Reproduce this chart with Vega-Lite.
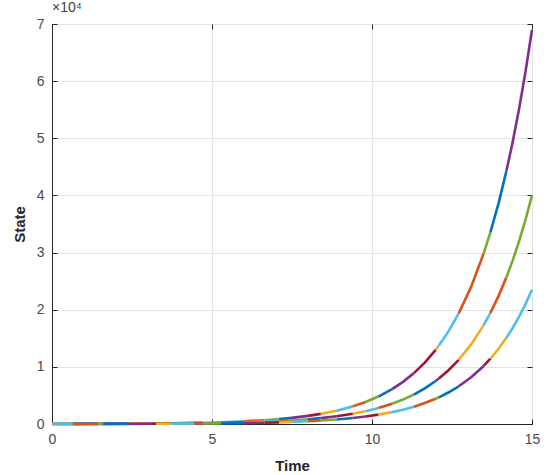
{
  "$schema": "https://vega.github.io/schema/vega-lite/v6.json",
  "width": 480,
  "height": 400,
  "autosize": {"type": "none"},
  "padding": {"left": 52, "top": 24, "right": 14, "bottom": 51},
  "background": "white",
  "title": {"text": "×10⁴", "anchor": "start", "frame": "group", "fontSize": 14, "fontWeight": "normal", "color": "#404040", "font": "Liberation Sans", "offset": 2},
  "data": {"values": [
    {"seg":0,"t":0,"x1":16.7,"x2":9.7,"x3":5.7},{"seg":0,"t":0.05,"x1":17.2,"x2":10,"x3":5.9},
    {"seg":1,"t":0.05,"x1":17.2,"x2":10,"x3":5.9},{"seg":1,"t":0.65,"x1":24,"x2":13.9,"x3":8.2},
    {"seg":2,"t":0.65,"x1":24,"x2":13.9,"x3":8.2},{"seg":2,"t":1.43,"x1":37,"x2":21.4,"x3":12.6},
    {"seg":3,"t":1.43,"x1":37,"x2":21.4,"x3":12.6},{"seg":3,"t":1.6,"x1":40.6,"x2":23.6,"x3":13.8},
    {"seg":4,"t":1.6,"x1":40.6,"x2":23.6,"x3":13.8},{"seg":4,"t":2.4,"x1":63.4,"x2":36.7,"x3":21.6},
    {"seg":5,"t":2.4,"x1":63.4,"x2":36.7,"x3":21.6},{"seg":5,"t":3.1,"x1":93.4,"x2":54.2,"x3":31.8},
    {"seg":6,"t":3.1,"x1":93.4,"x2":54.2,"x3":31.8},{"seg":6,"t":3.25,"x1":101.6,"x2":58.9,"x3":34.6},
    {"seg":7,"t":3.25,"x1":101.6,"x2":58.9,"x3":34.6},{"seg":7,"t":3.72,"x1":131.8,"x2":76.4,"x3":44.9},
    {"seg":8,"t":3.72,"x1":131.8,"x2":76.4,"x3":44.9},{"seg":8,"t":4.45,"x1":197.7,"x2":114.6,"x3":67.3},
    {"seg":9,"t":4.45,"x1":197.7,"x2":114.6,"x3":67.3},{"seg":9,"t":4.72,"x1":229.6,"x2":133.1,"x3":78.2},
    {"seg":10,"t":4.72,"x1":229.6,"x2":133.1,"x3":78.2},{"seg":10,"t":5.28,"x1":313.3,"x2":181.6,"x3":106.7},
    {"seg":11,"t":5.28,"x1":313.3,"x2":181.6,"x3":106.7},{"seg":11,"t":6.0,"x1":467.3,"x2":270.9,"x3":159.1},
    {"seg":12,"t":6.0,"x1":467.3,"x2":270.9,"x3":159.1},{"seg":12,"t":6.64,"x1":666.5,"x2":386.4,"x3":227},
    {"seg":13,"t":6.64,"x1":666.5,"x2":386.4,"x3":227},{"seg":13,"t":7.1,"x1":860.4,"x2":498.8,"x3":293},
    {"seg":14,"t":7.1,"x1":860.4,"x2":498.8,"x3":293},{"seg":14,"t":7.5,"x1":1074.3,"x2":622.8,"x3":365.9},
    {"seg":15,"t":7.5,"x1":1074.3,"x2":622.8,"x3":365.9},{"seg":15,"t":8.0,"x1":1417.8,"x2":821.9,"x3":482.9},
    {"seg":16,"t":8.0,"x1":1417.8,"x2":821.9,"x3":482.9},{"seg":16,"t":8.4,"x1":1770.2,"x2":1026.2,"x3":602.9},
    {"seg":17,"t":8.4,"x1":1770.2,"x2":1026.2,"x3":602.9},{"seg":17,"t":8.9,"x1":2336.3,"x2":1354.4,"x3":795.7},
    {"seg":18,"t":8.9,"x1":2336.3,"x2":1354.4,"x3":795.7},{"seg":18,"t":9.4,"x1":3083.6,"x2":1787.6,"x3":1050.2},
    {"seg":19,"t":9.4,"x1":3083.6,"x2":1787.6,"x3":1050.2},{"seg":19,"t":9.8,"x1":3850.1,"x2":2232,"x3":1311.3},
    {"seg":20,"t":9.8,"x1":3850.1,"x2":2232,"x3":1311.3},{"seg":20,"t":10.2,"x1":4807.2,"x2":2786.8,"x3":1637.2},
    {"seg":21,"t":10.2,"x1":4807.2,"x2":2786.8,"x3":1637.2},{"seg":21,"t":10.63,"x1":6102.9,"x2":3537.9,"x3":2078.5},
    {"seg":22,"t":10.63,"x1":6102.9,"x2":3537.9,"x3":2078.5},{"seg":22,"t":10.97,"x1":7370.3,"x2":4272.6,"x3":2510.2},{"seg":22,"t":11.31,"x1":8900.9,"x2":5160,"x3":3031.5},
    {"seg":23,"t":11.31,"x1":8900.9,"x2":5160,"x3":3031.5},{"seg":23,"t":11.65,"x1":10749.4,"x2":6231.5,"x3":3661},{"seg":23,"t":11.99,"x1":12981.9,"x2":7525.8,"x3":4421.4},
    {"seg":24,"t":11.99,"x1":12981.9,"x2":7525.8,"x3":4421.4},{"seg":24,"t":12.09,"x1":13722.7,"x2":7955.2,"x3":4673.7},
    {"seg":25,"t":12.09,"x1":13722.7,"x2":7955.2,"x3":4673.7},{"seg":25,"t":12.4,"x1":16299.1,"x2":9448.8,"x3":5551.1},{"seg":25,"t":12.71,"x1":19359.1,"x2":11222.6,"x3":6593.3},
    {"seg":26,"t":12.71,"x1":19359.1,"x2":11222.6,"x3":6593.3},{"seg":26,"t":13.1,"x1":24037.3,"x2":13934.7,"x3":8186.6},{"seg":26,"t":13.49,"x1":29846.3,"x2":17302.2,"x3":10165},
    {"seg":27,"t":13.49,"x1":29846.3,"x2":17302.2,"x3":10165},{"seg":27,"t":13.7,"x1":33535.6,"x2":19440.9,"x3":11421.5},
    {"seg":28,"t":13.7,"x1":33535.6,"x2":19440.9,"x3":11421.5},{"seg":28,"t":13.95,"x1":38526.8,"x2":22334.4,"x3":13121.4},{"seg":28,"t":14.2,"x1":44261.2,"x2":25658.7,"x3":15074.5},
    {"seg":29,"t":14.2,"x1":44261.2,"x2":25658.7,"x3":15074.5},{"seg":29,"t":14.4,"x1":49459.3,"x2":28672,"x3":16844.8},{"seg":29,"t":14.6,"x1":55263.1,"x2":32036.6,"x3":18821.5},{"seg":29,"t":14.8,"x1":61750.8,"x2":35797.6,"x3":21031.1},{"seg":29,"t":15,"x1":69000,"x2":40000,"x3":23500}
  ]},
  "layer": [
    {
      "mark": {"type": "line", "strokeWidth": 2.6, "strokeCap": "butt"},
      "encoding": {
        "x": {"field": "t", "type": "quantitative", "scale": {"domain": [0, 15], "nice": false},
          "axis": {"title": "Time", "values": [0, 5, 10, 15], "titlePadding": 12, "labelFlush": false}},
        "y": {"field": "x1", "type": "quantitative", "scale": {"domain": [0, 70000], "nice": false},
          "axis": {"title": "State", "values": [0,10000,20000,30000,40000,50000,60000,70000], "labelExpr": "datum.value/10000", "titlePadding": 9, "labelFlush": false}},
        "color": {"field": "seg", "type": "ordinal", "legend": null,
          "scale": {"domain": [0,1,2,3,4,5,6,7,8,9,10,11,12,13,14,15,16,17,18,19,20,21,22,23,24,25,26,27,28,29],
            "range": ["#0072BD","#7E2F8E","#A2142F","#EDB120","#4DBEEE","#D95319","#77AC30","#0072BD","#7E2F8E","#A2142F","#EDB120","#4DBEEE","#D95319","#77AC30","#0072BD","#7E2F8E","#A2142F","#EDB120","#4DBEEE","#D95319","#77AC30","#0072BD","#7E2F8E","#A2142F","#EDB120","#4DBEEE","#D95319","#77AC30","#0072BD","#7E2F8E"]}}
      }
    },
    {
      "mark": {"type": "line", "strokeWidth": 2.6, "strokeCap": "butt"},
      "encoding": {
        "x": {"field": "t", "type": "quantitative", "axis": null},
        "y": {"field": "x2", "type": "quantitative", "axis": null},
        "color": {"field": "seg", "type": "ordinal", "legend": null,
          "scale": {"domain": [0,1,2,3,4,5,6,7,8,9,10,11,12,13,14,15,16,17,18,19,20,21,22,23,24,25,26,27,28,29],
            "range": ["#D95319","#77AC30","#0072BD","#7E2F8E","#A2142F","#EDB120","#4DBEEE","#D95319","#77AC30","#0072BD","#7E2F8E","#A2142F","#EDB120","#4DBEEE","#D95319","#77AC30","#0072BD","#7E2F8E","#A2142F","#EDB120","#4DBEEE","#D95319","#77AC30","#0072BD","#7E2F8E","#A2142F","#EDB120","#4DBEEE","#D95319","#77AC30"]}}
      }
    },
    {
      "mark": {"type": "line", "strokeWidth": 2.6, "strokeCap": "butt"},
      "encoding": {
        "x": {"field": "t", "type": "quantitative", "axis": null},
        "y": {"field": "x3", "type": "quantitative", "axis": null},
        "color": {"field": "seg", "type": "ordinal", "legend": null,
          "scale": {"domain": [0,1,2,3,4,5,6,7,8,9,10,11,12,13,14,15,16,17,18,19,20,21,22,23,24,25,26,27,28,29],
            "range": ["#EDB120","#4DBEEE","#D95319","#77AC30","#0072BD","#7E2F8E","#A2142F","#EDB120","#4DBEEE","#D95319","#77AC30","#0072BD","#7E2F8E","#A2142F","#EDB120","#4DBEEE","#D95319","#77AC30","#0072BD","#7E2F8E","#A2142F","#EDB120","#4DBEEE","#D95319","#77AC30","#0072BD","#7E2F8E","#A2142F","#EDB120","#4DBEEE"]}}
      }
    },
    {
      "mark": {"type": "line", "opacity": 0},
      "encoding": {
        "x": {"field": "t", "type": "quantitative",
          "axis": {"orient": "top", "title": null, "labels": false, "grid": false, "domain": false, "values": [0, 5, 10, 15]}},
        "y": {"field": "x1", "type": "quantitative",
          "axis": {"orient": "right", "title": null, "labels": false, "grid": false, "domain": false, "values": [0,10000,20000,30000,40000,50000,60000,70000]}}
      }
    }
  ],
  "resolve": {"scale": {"color": "independent"}, "axis": {"x": "independent", "y": "independent"}},
  "config": {
    "view": {"stroke": "#404040", "strokeWidth": 1},
    "axis": {
      "domainColor": "#262626", "tickColor": "#262626", "tickSize": -5,
      "labelPadding": 13, "labelColor": "#4a4a4a", "labelFont": "Liberation Sans", "labelFontSize": 14,
      "titleFont": "Liberation Sans", "titleFontSize": 15, "titleFontWeight": "bold", "titleColor": "#262626",
      "gridColor": "#e3e3e3", "gridWidth": 1
    }
  }
}
